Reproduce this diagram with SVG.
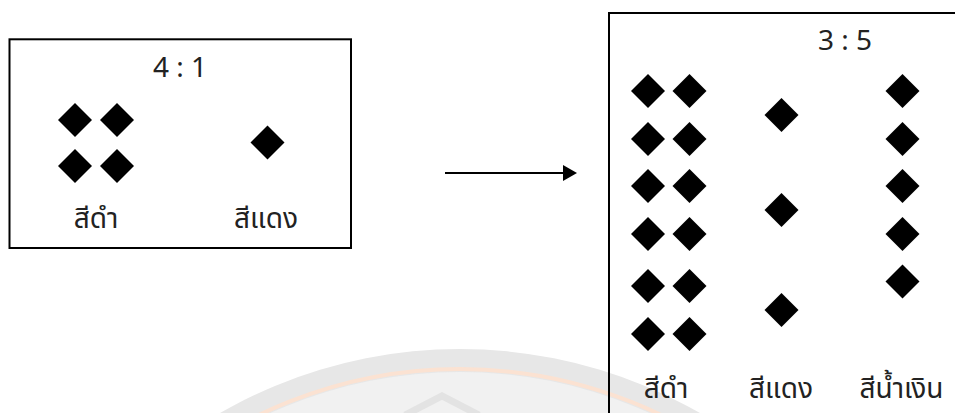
<svg xmlns="http://www.w3.org/2000/svg" width="955" height="413" viewBox="0 0 955 413">
  <style>
    .box { fill: none; stroke: #000; stroke-width: 2; }
    .txt { font-family: "Noto Sans", "Noto Sans Thai", "Liberation Sans", sans-serif; font-size: 28px; fill: #222; text-anchor: middle; }
    .edge { stroke: #000; stroke-width: 2; fill: none; }
  </style>
  <defs>
    <path id="d" d="M0,-17 L17,0 L0,17 L-17,0 Z" fill="#000"/>
    <marker id="ah" markerWidth="14" markerHeight="16" refX="2" refY="8" orient="auto" markerUnits="userSpaceOnUse">
      <path d="M0,0 L14,8 L0,16 Z" fill="#000"/>
    </marker>
  </defs>
  <rect width="955" height="413" fill="#fff"/>
  <g id="watermark">
    <circle cx="460" cy="831" r="482" fill="#e7e7e7"/>
    <circle cx="460" cy="831" r="462" fill="none" stroke="#fbe2d2" stroke-width="4"/>
    <circle cx="460" cy="831" r="459" fill="#f1f1f1"/>
    <polyline points="405,415 442,396 479,415" fill="none" stroke="#e3e3e3" stroke-width="7"/>
  </g>
  <g id="left-group">
    <rect class="box" x="9.5" y="39.3" width="341.5" height="208.7"/>
    <text class="txt" x="180" y="77">4 : 1</text>
    <use href="#d" x="75" y="120"/>
    <use href="#d" x="117" y="120"/>
    <use href="#d" x="75" y="166"/>
    <use href="#d" x="117" y="166"/>
    <use href="#d" x="267.5" y="142.5"/>
    <text class="txt" x="96" y="228">สีดำ</text>
    <text class="txt" x="266" y="228">สีแดง</text>
  </g>
  <g id="right-group">
    <rect class="box" x="609" y="13" width="400" height="450"/>
    <text class="txt" x="845" y="50">3 : 5</text>
    <use href="#d" x="648" y="91"/><use href="#d" x="689.5" y="91"/>
    <use href="#d" x="648" y="139"/><use href="#d" x="689.5" y="139"/>
    <use href="#d" x="648" y="186"/><use href="#d" x="689.5" y="186"/>
    <use href="#d" x="648" y="234"/><use href="#d" x="689.5" y="234"/>
    <use href="#d" x="648" y="286"/><use href="#d" x="689.5" y="286"/>
    <use href="#d" x="648" y="334"/><use href="#d" x="689.5" y="334"/>
    <use href="#d" x="781.5" y="115"/>
    <use href="#d" x="781.5" y="210"/>
    <use href="#d" x="781.5" y="310"/>
    <use href="#d" x="902.5" y="91"/>
    <use href="#d" x="902.5" y="139"/>
    <use href="#d" x="902.5" y="186"/>
    <use href="#d" x="902.5" y="234"/>
    <use href="#d" x="902.5" y="281.5"/>
    <text class="txt" x="666" y="398">สีดำ</text>
    <text class="txt" x="781" y="398">สีแดง</text>
    <text class="txt" x="901.5" y="398">สีน้ำเงิน</text>
  </g>
  <g id="connectors">
    <line class="edge" x1="445" y1="173" x2="565" y2="173" marker-end="url(#ah)"/>
  </g>
</svg>
